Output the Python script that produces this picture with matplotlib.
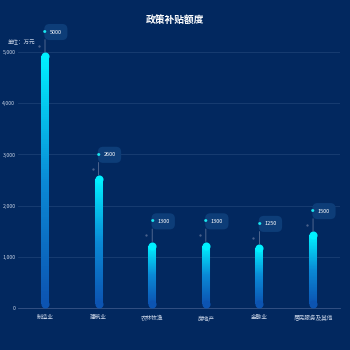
import matplotlib
matplotlib.use("Agg")
import matplotlib.pyplot as plt
import matplotlib.transforms as mtransforms
import numpy as np
from matplotlib.collections import LineCollection
from matplotlib.colors import LinearSegmentedColormap

plt.rcParams['font.family'] = ['Noto Sans CJK SC', 'DejaVu Sans']

# 数据
categories = ['制造业', '建筑业', '农林牧渔', '房地产', '金融业', '居民服务及其他']
values = [5000, 2600, 1300, 1300, 1250, 1500]
yticks = [0, 1000, 2000, 3000, 4000, 5000]

bg = '#02285f'
cmap = LinearSegmentedColormap.from_list('bar', ['#0c54b2', '#0a8ad6', '#00f0ff'])

fig = plt.figure(figsize=(3.5, 3.5), dpi=100, facecolor=bg)
ax = fig.add_axes([0.052, 0.12, 0.919, 0.731], facecolor=bg)

ax.set_xlim(-0.5, len(categories) - 0.5)
ax.set_ylim(0, 5000)

x = np.arange(len(categories))
lw = 5.8
# 半个线宽换算成数据单位，让圆角落在柱子内部
cap = (lw / 72 * fig.dpi / 2) / (ax.get_position().height * 350) * 5000
dot_tr = mtransforms.offset_copy(ax.transData, fig=fig, x=-6, y=6, units='dots')
for xi, v in zip(x, values):
    ys = np.linspace(cap, v - cap, 120)
    segs = [[(xi, ys[i]), (xi, ys[i + 1])] for i in range(len(ys) - 1)]
    lc = LineCollection(segs, colors=cmap(np.linspace(0, 1, len(segs))),
                        linewidths=lw, capstyle='butt', clip_on=False, zorder=3)
    ax.add_collection(lc)
    ax.scatter([xi], [v - cap], s=lw ** 2, color=cmap(1.0), marker='o', lw=0, zorder=3, clip_on=False)
    ax.scatter([xi], [cap], s=lw ** 2, color=cmap(0.0), marker='o', lw=0, zorder=3, clip_on=False)

    # 标签连线
    ax.annotate('', xy=(xi, v), xytext=(0, 9), textcoords='offset points',
                arrowprops=dict(arrowstyle='-', color='#5b7097', lw=0.6,
                                shrinkA=0, shrinkB=0), annotation_clip=False)
    # 标签框
    ax.annotate(f'{v}', xy=(xi, v), xytext=(3.5, 14.5), textcoords='offset points',
                ha='left', va='center', fontsize=4, color='white',
                bbox=dict(boxstyle='round,pad=1.0,rounding_size=0.95', fc='#0d3d78', ec='none'),
                annotation_clip=False, zorder=5)
    ax.annotate('●', xy=(xi, v), xytext=(0, 14.5), textcoords='offset points',
                ha='center', va='center', fontsize=2.6, color='#19e6f0',
                annotation_clip=False, zorder=6)
    ax.plot([xi], [v], marker='o', ms=0.6, color='#51668f', lw=0,
            transform=dot_tr, clip_on=False)

ax.set_xticks(x)
ax.set_xticklabels(categories, fontsize=4.1, color='#c8d3e6')
ax.set_yticks(yticks)
ax.set_yticklabels([f'{t:,}' for t in yticks], fontsize=3.8, color='#c8d3e6')
ax.tick_params(axis='x', length=0, pad=5)
ax.tick_params(axis='y', length=0, pad=2)
ax.grid(axis='y', color='#1a3f74', lw=0.6)
ax.set_axisbelow(True)
for s in ['top', 'right', 'left']:
    ax.spines[s].set_visible(False)
ax.spines['bottom'].set_color('#3a5688')
ax.spines['bottom'].set_linewidth(0.6)

fig.text(0.5, 0.943, '政策补贴额度', ha='center', va='center', fontsize=7,
         fontweight='bold', color='white')
fig.text(0.022, 0.88, '单位：万元', ha='left', va='center', fontsize=4, color='#c8d3e6')

fig.savefig('out.png', dpi=100, facecolor=bg)
